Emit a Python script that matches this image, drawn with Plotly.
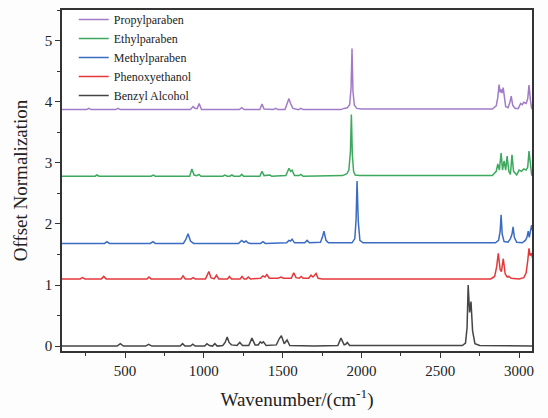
import plotly.graph_objects as go

# Wavenumber (cm^-1) sample points and normalized intensities
benzyl_x = [100, 450, 470, 490, 630, 650, 670, 850, 865, 880, 915, 930, 945, 1005, 1020, 1035, 1055, 1070, 1085,
            1120, 1135, 1148, 1160, 1175, 1210, 1228, 1245, 1285, 1305, 1325, 1345, 1358, 1368, 1378, 1395, 1460,
            1478, 1492, 1510, 1528, 1545, 1700, 1850, 1870, 1890, 1900, 1910, 1925, 2640, 2660, 2670, 2677, 2686,
            2695, 2705, 2720, 2750, 3090]
benzyl_y = [0, 0, 0.04, 0, 0, 0.03, 0, 0, 0.04, 0, 0, 0.03, 0, 0, 0.04, 0.01, 0, 0.04, 0,
            0.01, 0.06, 0.15, 0.06, 0.02, 0.01, 0.06, 0.01, 0.01, 0.13, 0.02, 0.02, 0.07, 0.05, 0.07, 0.01, 0.02,
            0.12, 0.17, 0.04, 0.1, 0.01, 0, 0.01, 0.13, 0.02, 0.03, 0.06, 0.01, 0.01, 0.05, 0.3, 1.0, 0.55,
            0.73, 0.25, 0.04, 0.01, 0]

phenoxy_x = [100, 215, 230, 245, 350, 365, 380, 640, 652, 665, 855, 868, 882, 920, 932, 945, 1010, 1025, 1032, 1045,
             1065, 1080, 1095, 1150, 1162, 1175, 1230, 1242, 1255, 1270, 1282, 1295, 1360, 1375, 1388, 1400, 1415,
             1470, 1490, 1505, 1555, 1570, 1585, 1605, 1618, 1630, 1665, 1680, 1692, 1700, 1712, 1725, 1750, 2820,
             2845, 2858, 2868, 2880, 2888, 2900, 2912, 2925, 2935, 2950, 3000, 3030, 3045, 3055, 3063, 3070, 3078,
             3090]
phenoxy_y = [0, 0, 0.02, 0, 0, 0.04, 0, 0, 0.03, 0, 0, 0.05, 0, 0, 0.02, 0, 0, 0.08, 0.12, 0.02,
             0, 0.06, 0, 0, 0.04, 0, 0, 0.04, 0, 0, 0.03, 0, 0.01, 0.05, 0.03, 0.07, 0.01,
             0.01, 0.03, 0.01, 0.01, 0.1, 0.02, 0.01, 0.04, 0.01, 0.01, 0.06, 0.03, 0.05, 0.09, 0.01, 0, 0,
             0.04, 0.2, 0.42, 0.15, 0.12, 0.33, 0.08, 0.03, 0.04, 0.01, 0, 0.02, 0.1, 0.3, 0.5, 0.38, 0.42,
             0.3]

methyl_x = [100, 370, 385, 400, 660, 677, 692, 870, 885, 900, 915, 935, 1220, 1240, 1255, 1268, 1280, 1295, 1360,
            1375, 1390, 1525, 1540, 1550, 1560, 1575, 1640, 1655, 1670, 1680, 1688, 1700, 1740, 1752, 1762, 1775,
            1790, 1940, 1958, 1966, 1972, 1980, 1990, 2010, 2850, 2870, 2880, 2886, 2893, 2905, 2930, 2945, 2955,
            2962, 2970, 2985, 3020, 3040, 3050, 3058, 3065, 3072, 3080, 3090]
methyl_y = [0, 0, 0.03, 0, 0, 0.03, 0, 0, 0.06, 0.16, 0.04, 0, 0, 0.05, 0.02, 0.04, 0.01, 0, 0,
            0.03, 0, 0.01, 0.05, 0.04, 0.07, 0.01, 0.01, 0.05, 0.01, 0.01, 0.02, 0.01, 0.02, 0.1, 0.2, 0.05,
            0.01, 0.01, 0.08, 0.4, 1.02, 0.35, 0.05, 0.01, 0.01, 0.05, 0.2, 0.47, 0.15, 0.03, 0.02, 0.08, 0.15,
            0.27, 0.1, 0.02, 0.01, 0.05, 0.1, 0.2, 0.1, 0.2, 0.3, 0.15]

ethyl_x = [100, 310, 322, 335, 665, 679, 692, 910, 924, 938, 955, 969, 982, 1120, 1134, 1148, 1165, 1178, 1190,
           1228, 1240, 1252, 1355, 1369, 1382, 1410, 1420, 1430, 1520, 1532, 1540, 1550, 1560, 1575, 1605, 1616,
           1630, 1880, 1908, 1920, 1930, 1936, 1942, 1950, 1960, 1990, 2830, 2855, 2865, 2875, 2886, 2895, 2905,
           2915, 2924, 2935, 2945, 2955, 2965, 2985, 3000, 3015, 3030, 3045, 3055, 3063, 3072, 3080, 3090]
ethyl_y = [0, 0, 0.02, 0, 0, 0.02, 0, 0, 0.12, 0.02, 0.01, 0.03, 0, 0, 0.02, 0, 0, 0.02, 0,
           0, 0.03, 0, 0, 0.08, 0.01, 0.01, 0.02, 0, 0.01, 0.08, 0.13, 0.08, 0.1, 0.01, 0.01, 0.03,
           0, 0.01, 0.04, 0.1, 0.4, 1.01, 0.35, 0.08, 0.02, 0.01, 0.01, 0.08, 0.2, 0.1, 0.38, 0.1, 0.25,
           0.1, 0.33, 0.08, 0.03, 0.35, 0.08, 0.02, 0.1, 0.08, 0.12, 0.1, 0.15, 0.41, 0.15, 0.02, 0.01]

propyl_x = [100, 255, 270, 285, 440, 455, 470, 915, 931, 945, 958, 970, 985, 1225, 1240, 1255, 1355, 1369, 1382,
            1440, 1455, 1470, 1515, 1530, 1540, 1550, 1565, 1600, 1616, 1630, 1870, 1890, 1910, 1925, 1934, 1940,
            1946, 1955, 1970, 2000, 2830, 2855, 2865, 2873, 2880, 2886, 2892, 2899, 2905, 2915, 2930, 2942, 2950,
            2960, 2975, 2995, 3010, 3020, 3030, 3045, 3055, 3063, 3072, 3080, 3090]
propyl_y = [0, 0, 0.02, 0, 0, 0.02, 0, 0, 0.05, 0.02, 0.02, 0.1, 0, 0, 0.03, 0, 0, 0.09, 0.01,
            0, 0.02, 0, 0, 0.1, 0.18, 0.1, 0.02, 0, 0.02, 0, 0, 0.02, 0.03, 0.08, 0.35, 1.0,
            0.3, 0.07, 0.02, 0.01, 0.01, 0.06, 0.2, 0.41, 0.28, 0.33, 0.27, 0.36, 0.2, 0.05, 0.03, 0.12, 0.22,
            0.07, 0.02, 0.02, 0.1, 0.08, 0.12, 0.1, 0.18, 0.4, 0.15, 0.02, 0.01]

names = ["Propylparaben", "Ethylparaben", "Methylparaben", "Phenoxyethanol", "Benzyl Alcohol"]
offsets = [3.87, 2.78, 1.68, 1.1, 0.0]
xs = [propyl_x, ethyl_x, methyl_x, phenoxy_x, benzyl_x]
ys = [propyl_y, ethyl_y, methyl_y, phenoxy_y, benzyl_y]
colors = ["#A27BC8", "#3DA95E", "#3A6CC4", "#E5383B", "#454545"]

x_ticks = [500, 1000, 1500, 2000, 2500, 3000]
y_ticks = [0, 1, 2, 3, 4, 5]

fig = go.Figure()
for n, off, x, y, c in zip(names, offsets, xs, ys, colors):
    fig.add_trace(go.Scatter(x=x, y=[v + off for v in y], mode="lines", name=n,
                             line=dict(color=c, width=1.5)))

font = "Liberation Serif, Times New Roman, serif"
fig.update_layout(
    width=548, height=418,
    margin=dict(l=62, r=16, t=5, b=67),
    paper_bgcolor="#fdfdfd", plot_bgcolor="white",
    font=dict(family=font, size=15, color="#222"),
    showlegend=True,
    legend=dict(x=0.025, y=1.015, xanchor="left", yanchor="top", bgcolor="rgba(0,0,0,0)",
                font=dict(family=font, size=12, color="#222"), itemwidth=30, tracegroupgap=0),
)
fig.update_xaxes(range=[100, 3082], tickvals=x_ticks, ticks="outside", ticklen=5, tickcolor="#333",
                 showline=True, linecolor="#333", linewidth=1.5, mirror=True, showgrid=False, zeroline=False,
                 minor=dict(ticks="outside", ticklen=3, dtick=250, tick0=0, tickcolor="#333"),
                 title=dict(text="Wavenumber/(cm<sup>-1</sup>)", font=dict(size=19), standoff=15))
fig.update_yaxes(range=[-0.08, 5.5], tickvals=y_ticks, ticks="outside", ticklen=5, tickcolor="#333",
                 showline=True, linecolor="#333", linewidth=1.5, mirror=True, showgrid=False, zeroline=False,
                 minor=dict(ticks="outside", ticklen=3, dtick=0.5, tick0=0, tickcolor="#333"),
                 title=dict(text="Offset Normalization", font=dict(size=19), standoff=12))

fig.write_html("out.html", config={"displayModeBar": False},
               post_script="document.body.style.margin='0';")
